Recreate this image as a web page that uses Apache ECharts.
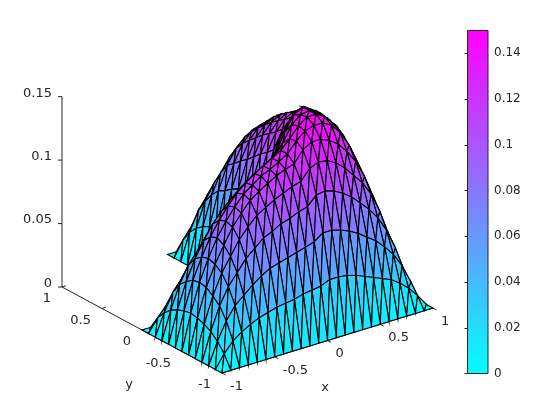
<!DOCTYPE html>
<html>
<head>
<meta charset="utf-8">
<style>html,body{margin:0;padding:0;background:#fff}#c{width:560px;height:420px}</style>
<script src="https://cdn.jsdelivr.net/npm/echarts@6/dist/echarts.min.js"></script>
</head>
<body>
<div id="c"></div>
<script>
var _ = null;
// grid nodes: x and y run from -1 to 1 in 24 steps
var nodeCount = 25;
// surface heights; one row per y, one column per x; the quadrant x<0, y>0 is absent
var row00 = [0,0,0,0,0,0,0,0,0,0,0,0,0,0,0,0,0,0,0,0,0,0,0,0,0];
var row01 = [0,.010,.018,.023,.027,.030,.032,.034,.035,.036,.038,.039,.040,.043,.043,.042,.040,.037,.034,.031,.028,.023,.017,.009,0];
var row02 = [0,.017,.031,.041,.047,.053,.058,.062,.064,.066,.068,.070,.072,.077,.077,.075,.072,.068,.063,.058,.051,.043,.032,.017,0];
var row03 = [0,.022,.040,.053,.062,.071,.077,.083,.086,.090,.092,.095,.097,.104,.105,.103,.099,.094,.087,.080,.071,.059,.043,.023,0];
var row04 = [0,.025,.045,.061,.072,.083,.091,.098,.102,.106,.109,.112,.114,.122,.125,.124,.120,.114,.106,.098,.087,.071,.051,.028,0];
var row05 = [0,.027,.049,.065,.078,.090,.099,.107,.112,.116,.120,.123,.125,.134,.138,.138,.135,.130,.122,.112,.098,.080,.058,.031,0];
var row06 = [0,.028,.050,.067,.081,.092,.101,.109,.114,.119,.122,.126,.130,.138,.144,.146,.146,.142,.134,.122,.106,.087,.063,.034,0];
var row07 = [0,.027,.049,.065,.079,.090,.099,.107,.113,.118,.122,.126,.130,.137,.145,.150,.150,.146,.138,.128,.114,.094,.068,.037,0];
var row08 = [0,.025,.045,.061,.073,.084,.092,.099,.105,.110,.114,.118,.122,.131,.143,.149,.150,.146,.140,.132,.120,.101,.074,.041,0];
var row09 = [0,.022,.040,.053,.062,.072,.078,.085,.090,.095,.100,.104,.108,.121,.135,.146,.150,.146,.141,.133,.125,.107,.079,.043,0];
var row10 = [0,.017,.031,.040,.047,.054,.059,.063,.068,.072,.078,.082,.087,.104,.120,.134,.144,.145,.140,.134,.127,.110,.082,.045,0];
var row11 = [0,.010,.018,.023,.027,.031,.034,.038,.041,.045,.048,.052,.056,.082,.106,.123,.133,.139,.139,.135,.127,.109,.082,.045,0];
var row12 = [0,0,0,0,0,0,0,0,0,0,0,0,0,.056,.088,.110,.124,.131,.134,.132,.122,.105,.078,.043,0];
var row13 = [_,_,_,_,_,_,_,_,_,_,_,_,0,.052,.083,.105,.119,.127,.131,.129,.119,.102,.076,.042,0];
var row14 = [_,_,_,_,_,_,_,_,_,_,_,_,0,.048,.079,.101,.115,.123,.127,.125,.116,.099,.074,.041,0];
var row15 = [_,_,_,_,_,_,_,_,_,_,_,_,0,.046,.074,.096,.111,.119,.123,.121,.113,.097,.073,.040,0];
var row16 = [_,_,_,_,_,_,_,_,_,_,_,_,0,.042,.070,.091,.106,.114,.118,.117,.110,.095,.073,.040,0];
var row17 = [_,_,_,_,_,_,_,_,_,_,_,_,0,.039,.067,.087,.101,.109,.112,.112,.106,.092,.071,.038,0];
var row18 = [_,_,_,_,_,_,_,_,_,_,_,_,0,.036,.063,.082,.096,.103,.106,.106,.101,.088,.068,.037,0];
var row19 = [_,_,_,_,_,_,_,_,_,_,_,_,0,.034,.060,.078,.089,.096,.100,.100,.095,.083,.064,.035,0];
var row20 = [_,_,_,_,_,_,_,_,_,_,_,_,0,.031,.054,.069,.079,.086,.091,.092,.087,.077,.060,.033,0];
var row21 = [_,_,_,_,_,_,_,_,_,_,_,_,0,.027,.046,.058,.066,.073,.078,.079,.075,.066,.050,.027,0];
var row22 = [_,_,_,_,_,_,_,_,_,_,_,_,0,.021,.036,.046,.054,.060,.062,.061,.056,.049,.038,.021,0];
var row23 = [_,_,_,_,_,_,_,_,_,_,_,_,0,.012,.021,.028,.033,.036,.037,.036,.033,.028,.021,.012,0];
var row24 = [_,_,_,_,_,_,_,_,_,_,_,_,0,0,0,0,0,0,0,0,0,0,0,0,0];
var zRows = [row00,row01,row02,row03,row04,row05,row06,row07,row08,row09,row10,row11,row12,row13,row14,row15,row16,row17,row18,row19,row20,row21,row22,row23,row24];

var xTicks = [-1,-0.5,0,0.5,1];
var yTicks = [-1,-0.5,0,0.5,1];
var zTicks = [0,0.05,0.1,0.15];
var cbTicks = [0,0.02,0.04,0.06,0.08,0.1,0.12,0.14];
var zMax = 0.15;

var TEXT = '#262626', FONT = '13px "DejaVu Sans"', FONT_T = '13px "DejaVu Sans"';

// orthographic view of the box, in pixels of the full-page plane
var O = [222, 373], EX = [105.5, -32.5], EY = [-80, -43], EZ = 1269;
function project(x, y, z) {
  return [O[0] + (x + 1) * EX[0] + (y + 1) * EY[0],
          O[1] + (x + 1) * EX[1] + (y + 1) * EY[1] - z * EZ];
}
function depth(x, y, z) { return -101520 * x - 133880 * y + 7136 * z; }
function coolColor(v) {
  var t = Math.max(0, Math.min(1, v / zMax));
  return 'rgb(' + Math.round(255 * t) + ',' + Math.round(255 * (1 - t)) + ',255)';
}
function pos(k) { return -1 + 2 * k / (nodeCount - 1); }

var facets = [];
function addFacet(a, b, c) {
  var pts = [a, b, c], item = [], d = 0, m = 0;
  for (var p = 0; p < 3; p++) {
    var i = pts[p][0], j = pts[p][1], z = zRows[j][i];
    if (z === null) return;
    item.push(pos(i), pos(j), z);
    d += depth(pos(i), pos(j), z); m += z;
  }
  item.push(m / 3, d / 3);
  facets.push(item);
}
for (var j = 0; j < nodeCount - 1; j++) {
  for (var i = 0; i < nodeCount - 1; i++) {
    addFacet([i, j], [i + 1, j], [i + 1, j + 1]);
    addFacet([i, j], [i + 1, j + 1], [i, j + 1]);
  }
}
facets.sort(function (a, b) { return a[10] - b[10]; });

function renderFacet(params, api) {
  var pts = [];
  for (var k = 0; k < 3; k++) {
    pts.push(api.coord(project(api.value(k * 3), api.value(k * 3 + 1), api.value(k * 3 + 2))));
  }
  return {
    type: 'polygon',
    shape: { points: pts },
    style: { fill: coolColor(api.value(9)), stroke: '#000', lineWidth: 1.1 }
  };
}

// axis marks: [kind, value]
var axisData = [[0, 0], [1, 0], [2, 0]];
xTicks.forEach(function (v) { axisData.push([3, v]); });
yTicks.forEach(function (v) { axisData.push([4, v]); });
zTicks.forEach(function (v) { axisData.push([5, v]); });
axisData.push([6, 0], [7, 0]);

function line(a, b) {
  return { type: 'line', shape: { x1: a[0], y1: a[1], x2: b[0], y2: b[1] }, style: { stroke: TEXT, lineWidth: 1 } };
}
function label(txt, x, y, align, font) {
  return { type: 'text', style: { text: txt, x: x, y: y, textAlign: align, textVerticalAlign: 'middle', font: font || FONT, fill: TEXT } };
}
function renderAxis(params, api) {
  var kind = api.value(0), v = api.value(1);
  var P = function (x, y, z) { return api.coord(project(x, y, z)); };
  var p;
  if (kind === 0) return line(P(-1, -1, 0), P(1, -1, 0));
  if (kind === 1) return line(P(-1, -1, 0), P(-1, 1, 0));
  if (kind === 2) return line(P(-1, 1, 0), P(-1, 1, zMax));
  if (kind === 3) {
    p = P(v, -1, 0);
    return { type: 'group', children: [line(p, [p[0] + 3.5, p[1] + 1.9]), label(String(v), p[0] + 8, p[1] + 13.5, 'left')] };
  }
  if (kind === 4) {
    p = P(-1, v, 0);
    return { type: 'group', children: [line(p, [p[0] + 3.8, p[1] - 1.2]), label(String(v), p[0] - 11, p[1] + 12, 'right')] };
  }
  if (kind === 5) {
    p = P(-1, 1, v);
    return { type: 'group', children: [line(p, [p[0] - 4, p[1]]), label(String(v), p[0] - 10, p[1] - 3.5, 'right')] };
  }
  if (kind === 6) return label('x', 325, 388, 'center', FONT_T);
  return label('y', 129, 385, 'center', FONT_T);
}

function renderBar(params, api) {
  var a = api.coord([0, api.value(1)]), b = api.coord([1, api.value(0)]);
  return {
    type: 'rect',
    shape: { x: a[0], y: a[1], width: b[0] - a[0], height: b[1] - a[1] },
    style: {
      fill: new echarts.graphic.LinearGradient(0, 1, 0, 0, [
        { offset: 0, color: coolColor(0) }, { offset: 1, color: coolColor(zMax) }
      ]),
      stroke: TEXT, lineWidth: 1
    }
  };
}

var chart = echarts.init(document.getElementById('c'), null, { renderer: 'canvas' });
chart.setOption({
  animation: false,
  backgroundColor: '#fff',
  grid: [
    { left: 0, top: 0, width: 560, height: 420, show: false },
    { left: 467.5, top: 30.5, width: 20.5, height: 343, show: false }
  ],
  xAxis: [
    { gridIndex: 0, type: 'value', min: 0, max: 560, show: false },
    { gridIndex: 1, type: 'value', min: 0, max: 1, show: false }
  ],
  yAxis: [
    { gridIndex: 0, type: 'value', min: 0, max: 420, inverse: true, show: false },
    {
      gridIndex: 1, type: 'value', min: 0, max: zMax, position: 'right',
      axisLine: { show: false },
      splitLine: { show: false },
      axisTick: { show: true, inside: true, length: 3, customValues: cbTicks, lineStyle: { color: TEXT, width: 1 } },
      axisLabel: { show: true, customValues: cbTicks, margin: 6, color: TEXT, fontFamily: 'DejaVu Sans', fontSize: 12,
        formatter: function (v) { return String(v); } }
    }
  ],
  series: [
    { type: 'custom', coordinateSystem: 'cartesian2d', xAxisIndex: 0, yAxisIndex: 0, data: axisData,
      renderItem: renderAxis, silent: true, clip: false, z: 1 },
    { type: 'custom', coordinateSystem: 'cartesian2d', xAxisIndex: 0, yAxisIndex: 0, data: facets,
      renderItem: renderFacet, silent: true, clip: false, progressive: 0, z: 2, encode: { x: 0, y: 1 } },
    { type: 'custom', coordinateSystem: 'cartesian2d', xAxisIndex: 1, yAxisIndex: 1, data: [[0, zMax]],
      renderItem: renderBar, silent: true, clip: false, z: 2, encode: { y: 1 } }
  ]
});
</script>
</body>
</html>
